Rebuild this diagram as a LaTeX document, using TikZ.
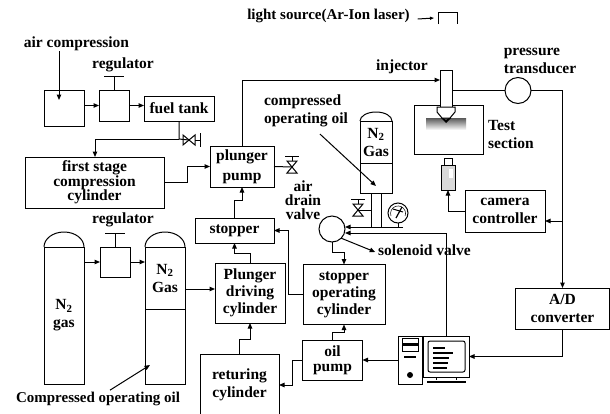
\documentclass[tikz,border=0pt]{standalone}
\usepackage{fontspec}
\setmainfont{Liberation Serif}
\usepackage{tikz}
\usetikzlibrary{calc, positioning}
\usetikzlibrary{arrows.meta}
\def\domerise{15pt}
\def\handlelen{14}
\newcommand\drawdome[3]{
    \draw[line width=1pt] (#1.north west) arc[start angle=180, end angle=0, x radius=#2, y radius=#3];
}
\tikzset{
    border/.style = {
        draw, rectangle, line width=1pt, align=center, fill=white
    },
    label/.style = {
        align=center
    },
    Valve/.pic = {
        \draw[line width=1pt] (-5,-6) -- (5,6) -- (-5,6) -- (5,-6) -- cycle;
        \draw[line width=1pt] (0,-6) -- (0,-11);
        \draw[line width=1pt] (-7,-11) -- (7,-11);
        \coordinate (-c) at (0,0);
    },
}

\begin{document}
\begin{tikzpicture}[x=1pt, y=-1pt, line width=1pt,
        every node/.style={font=\fontsize{15.5}{18}\selectfont\bfseries, inner sep=0pt, outer sep=0pt},
        >={Triangle[width=4.5pt,length=5.5pt]}]
        \useasboundingbox (0,0) rectangle (610,413);

        % Place the blocks
        \node [border, minimum width=40pt, minimum height=36pt] (aircomp) at (64,108) {};
        \node [border, minimum width=30pt, minimum height=31pt] (reg1) at (114,105.5) {};
        \node [border, minimum width=70pt, minimum height=25pt] (fuel) at (179,108.5) {fuel tank};
        \node [border, minimum width=139pt, minimum height=51pt] (first) at (94.5,182.5) {first stage\\[-3pt]compression\\[-4pt]cylinder};
        \node [border, minimum width=64pt, minimum height=41pt] (plunger) at (242,166.5) {plunger\\[2pt]pump};
        \node [border, minimum width=79pt, minimum height=25pt] (stopper) at (234.5,230.5) {stopper};
        \node [border, minimum width=70pt, minimum height=60pt] (driving) at (250,293) {Plunger\\[-1pt]driving\\[-1pt]cylinder};
        \node [border, minimum width=82pt, minimum height=60pt] (stopop) at (344,294.5) {stopper\\[-1pt]operating\\[-1pt]cylinder};
        \node [border, minimum width=79pt, minimum height=62pt] (returing) at (239.5,385) {returing\\cylinder};
        \node [border, minimum width=60pt, minimum height=40pt] (oilpump) at (332.5,360) {oil\\[-3pt]pump};
        \node [border, minimum width=80pt, minimum height=42pt] (camctrl) at (505,211) {camera\\controller};
        \node [border, minimum width=94pt, minimum height=41pt] (adconv) at (562.5,308.5) {A/D\\converter};
        \node [border, minimum width=69pt, minimum height=49pt] (testsec) at (448.5,129.5) {};

        % Tanks
        \node [border, minimum width=40pt, minimum height=137pt] (tanka) at (64,315.5) {N\textsubscript{2}\\gas};
        \node [border, minimum width=30pt, minimum height=30pt] (reg2) at (115,262) {};
        \node [border, minimum width=40pt, minimum height=62pt] (tankb) at (165,278) {N\textsubscript{2}\\Gas};
        \node [border, minimum width=40pt, minimum height=75pt] (oilb) at (165,346.5) {};
        \node [border, minimum width=32pt, minimum height=42pt] (tankc) at (376,142) {N\textsubscript{2}\\Gas};
        \node [border, minimum width=32pt, minimum height=30pt] (oilc) at (376,178) {};
        \drawdome{tanka}{20pt}{\domerise}
        \drawdome{tankb}{20pt}{\domerise}
        \drawdome{tankc}{16pt}{9pt}

        % Circles
        \node [draw, circle, minimum size=26pt] (pressure) at (518,90.5) {};
        \node [draw, circle, minimum size=26pt] (solenoid) at (332,229) {};
        \node [draw, circle, minimum size=20pt] (gauge) at (398,213) {};

        % Valves
        \draw pic[rotate=-90] (fuelvalve) at (189,140) {Valve};
        \draw pic (airvalve) at (292,167) {Valve};
        \draw pic (oilvalve) at (358,210) {Valve};

        % Handles of the regulators
        \foreach \x in {reg1, reg2}{
            \draw (\x.north) -- ++(0,-\handlelen) ++(-10,0) -- ++(20,0);
        }

        % Injector
        \node [border, minimum width=12pt, minimum height=37pt] (injector) at (446,88.5) {};
        \shade[top color=black!65, bottom color=white] (426,118) rectangle (466,130);
        \draw[fill=white] (437,107) -- (455,107) -- (455,112) -- (450,118) -- (442,118) -- (437,112) -- cycle;
        \fill (441,118) -- (446,123) -- (451,118) -- (449,118) -- (446,120) -- (443,118) -- cycle;

        % Camera
        \node [border, fill=gray!30, minimum width=14pt, minimum height=25pt] (camera) at (448,177.5) {};
        \node [border, minimum width=8pt, minimum height=7pt] (camcap) at (448,161.5) {};
        \fill[white] (449,169) rectangle (453,178);

        % Computer
        \node [border, minimum width=24pt, minimum height=48pt] (tower) at (410,360) {};
        \node [border, minimum width=46pt, minimum height=41pt] (monitor) at (446,356.5) {};
        \draw[rounded corners=2pt] (428,341) rectangle (465,372);
        \draw (402,338) rectangle (418,351);
        \fill (402,343) rectangle (418,345.5);
        \fill (404,356) rectangle (416,358);
        \fill (410,375) circle (3pt);
        \foreach \y/\w in {347/12, 352/20, 357/16, 362/15, 367/14}{
            \fill (433,\y) rectangle ++(\w,1.6);
        }
        \draw (436,377) -- (436,380) (456,377) -- (456,380);
        \fill (427,380.5) rectangle (466,383);

        % Draw connections
        \coordinate (airtip) at (59,100);
        \coordinate (oilend) at (403,227);
        \coordinate (tipb) at (150,365);
        \coordinate (tipc) at (376,186);
        \node [label] (airlabel) at (76.5,44) {air compression};
        \node [label] (reglabela) at (123,65) {regulator};
        \node [label] (reglabelb) at (123,220) {regulator};
        \node [label, font=\fontsize{15}{18}\selectfont\bfseries] (oillabelb) at (98,399) {Compressed operating oil};
        \node [label, align=left] (oillabelc) at (306,111) {compressed\\operating oil};
        \node [label] (drainlabel) at (303,200) {air\\[-4pt]drain\\[-4pt]valve};
        \node [label] (sollabel) at (424.5,250) {solenoid valve};
        \node [label] (injlabel) at (402,67) {injector};
        \node [label, align=left] (translabel) at (540,61) {pressure\\transducer};
        \node [label, align=left] (testlabel) at (511,134) {Test\\section};
        \node [label, font=\fontsize{15}{18}\selectfont\bfseries] (lightlabel) at (328.5,16) {light source(Ar-Ion laser)};
        \node [minimum width=19pt, minimum height=12pt] (slit) at (447.5,18) {};

        \draw[->] (airlabel.south -| airtip) -- (airtip);
        \draw[->] (reg1.west -| aircomp.east) -- (reg1.west);
        \draw[->] (reg1.east) -- (reg1.east -| fuel.west);
        \draw (fuel.south) -- ++(0,18) coordinate(fueljoin) -- (fuelvalve-c);
        \draw[->] (fueljoin) -| ([xshift=0.5pt] first.north);
        \draw[->] (first.east) -- ++(23,0) |- (plunger.west);
        \draw (plunger.east) -- (airvalve-c);
        \draw[->] (plunger.north) |- ([yshift=8.5pt] injector.west);
        \draw[->] (stopper.north) -- ++(0,-18) -| (plunger.south);
        \draw[->] (driving.north) -- ++(0,-10) -| (stopper.south);
        \draw[->] (returing.north) -- ++(0,-15) -| (driving.south);
        \draw[->] (stopop.west) -- ++(-15,0) |- (stopper.east);
        \draw[->] (oilpump.north) -- ++(0,-8) -| (stopop.south);
        \draw[->] (solenoid.south) -- ++(0,10) -| (stopop.north);
        \draw[->] (oilpump.west) -- ++(-10,0) |- (returing.east);
        \draw[->] (tower.west) -- (oilpump.east);
        \draw[->] (reg2.west -| tanka.east) -- (reg2.west);
        \draw[->] (reg2.east) -- (reg2.east -| tankb.west);
        \draw[->] ([yshift=-11pt] tankb.east) -- ([yshift=4pt] driving.west);
        \draw[->] (adconv.south) |- (monitor.east);
        \draw[->] (monitor.north) |- ([yshift=-4pt] solenoid.east);
        \draw[->] (oilend) -- ([yshift=2pt] solenoid.east);
        \foreach \s in {-5, 5}{
            \draw ([xshift=\s pt] oilc.south) -- ++(0,34);
        }
        \draw (gauge.south) -- (gauge.south |- oilend);
        \draw (oilvalve-c) -- ([xshift=-5pt] oilc.south |- oilvalve-c);
        \draw (injector.east |- pressure.west) -- (pressure.west);
        \draw[->] (pressure.east) -| (adconv.north);
        \draw[<-] ([yshift=-10pt] camctrl.east) -- ++(17,0);
        \draw[->] (camctrl.west) -- ++(-17,0) -| (camera.south);
        \draw[->] (solenoid.south east) -- ([xshift=-3pt,yshift=-2pt] sollabel.west);
        \draw[->] ([xshift=12pt,yshift=2pt] oillabelb.north) -- (tipb);
        \draw[->] ([xshift=14pt,yshift=-7pt] oillabelc.south) -- (tipc);
        \draw[->, >={Triangle[width=3pt,length=4pt]}] ([xshift=8pt,yshift=-3pt] lightlabel.east) -- ([xshift=-4pt] slit.west);
        \draw (slit.south west) -- (slit.north west) -- (slit.north east) -- (slit.south east);

        % Gauge face
        \draw[line width=0.5pt] (391,216) arc[start angle=200, end angle=-20, radius=7.5pt];
        \draw[line width=1.2pt] (396,218) -- (402,207);
        \draw[line width=1pt] (393,209) -- (403,212);
    \end{tikzpicture}
\end{document}
